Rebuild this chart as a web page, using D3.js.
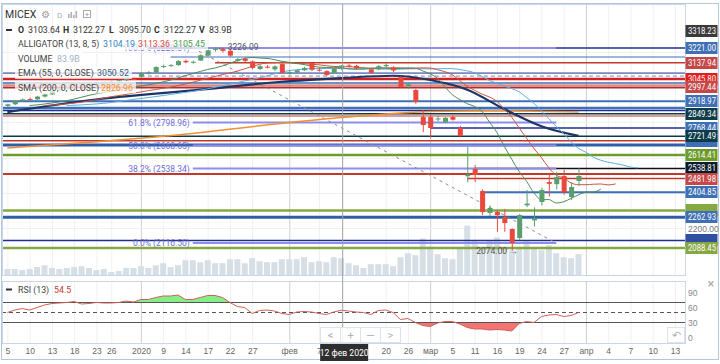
<!DOCTYPE html>
<html>
<head>
<meta charset="utf-8">
<script src="https://cdn.jsdelivr.net/npm/d3@7"></script>
<style>
  body { margin: 0; background: #fff; }
  svg { display: block; font-family: Roboto, "Liberation Sans", Arial, sans-serif; }
</style>
</head>
<body>
<div id="chart"></div>
<script>
// ---- data ----
// trading days shown on the chart, grouped by month
var monthDays = [
    ["2019-12", [5, 6, 9, 10, 11, 12, 13, 16, 17, 18, 19, 20, 23, 24, 26, 27, 30, 31]],
    ["2020-01", [3, 6, 8, 9, 10, 13, 14, 15, 16, 17, 20, 21, 22, 23, 24, 27, 28, 29, 30, 31]],
    ["2020-02", [3, 4, 5, 6, 7, 10, 11, 12, 13, 14, 17, 18, 19, 20, 21, 25, 26, 27, 28]],
    ["2020-03", [2, 3, 4, 5, 6, 10, 11, 12, 13, 16, 17, 18, 19, 20, 23, 24, 25, 26, 27, 30, 31]]
];
// empty future slots on the right of the chart
var futureDays = ["2020-04", [1, 2, 3, 4, 5, 6, 7, 8, 9, 10, 11, 12, 13, 14]];

var open = [2893, 2902, 2921, 2932, 2930, 2946, 2958, 2982, 2990, 3001, 2997, 2994, 3012, 3020, 3028, 3031, 3038, 3046,
    3058, 3078, 3082, 3115, 3120, 3124, 3148, 3140, 3150, 3178, 3210, 3215, 3205, 3148, 3160, 3145, 3102, 3115, 3100, 3130,
    3082, 3082, 3095, 3136, 3098, 3090, 3080, 3103.64, 3122, 3120, 3105, 3100, 3100, 3118, 3110, 3057, 3005, 2983, 2830,
    2830, 2818, 2800, 2830, 2768, 2495, 2536, 2411, 2287, 2292, 2264, 2196, 2145, 2330, 2245, 2349, 2462, 2450, 2496, 2377, 2468];
var high = [2905, 2925, 2935, 2940, 2950, 2962, 2985, 2995, 3005, 3010, 3008, 3015, 3025, 3032, 3036, 3042, 3050, 3052,
    3085, 3090, 3118, 3127, 3130, 3152, 3155, 3150, 3185, 3212, 3226.09, 3222, 3212, 3165, 3168, 3150, 3125, 3125, 3122, 3135,
    3095, 3100, 3115, 3142, 3108, 3095, 3112, 3122.27, 3130, 3126, 3115, 3104, 3125, 3135, 3118, 3062, 3025, 2990, 2870,
    2845, 2835, 2830, 2840, 2780, 2660, 2558, 2420, 2330, 2303, 2310, 2200, 2280, 2417, 2318, 2430, 2510, 2520, 2530, 2460, 2540];
var low = [2886, 2898, 2915, 2924, 2926, 2940, 2955, 2975, 2984, 2990, 2985, 2992, 3005, 3015, 3020, 3024, 3032, 3040,
    3052, 3070, 3080, 3108, 3114, 3120, 3135, 3132, 3148, 3175, 3200, 3195, 3170, 3138, 3140, 3100, 3095, 3105, 3090, 3075,
    3070, 3078, 3090, 3090, 3088, 3062, 3075, 3095.70, 3110, 3100, 3098, 3075, 3095, 3105, 3085, 2995, 2990, 2905, 2745,
    2712, 2805, 2795, 2810, 2715, 2460, 2462, 2275, 2270, 2180, 2180, 2074, 2135, 2320, 2210, 2330, 2380, 2420, 2390, 2360, 2440];
var close = [2902, 2920, 2930, 2929, 2946, 2958, 2980, 2990, 3001, 2997, 2994, 3012, 3020, 3028, 3031, 3038, 3046, 3045,
    3078, 3084, 3113, 3119, 3124, 3147, 3140, 3143, 3180, 3208, 3218, 3205, 3178, 3158, 3148, 3108, 3118, 3113, 3117, 3080,
    3085, 3095, 3108, 3098, 3096, 3068, 3106, 3122.27, 3115, 3105, 3108, 3080, 3118, 3125, 3094, 3000, 3016, 2915, 2785,
    2768, 2822, 2826, 2815, 2723, 2505, 2502, 2292, 2315, 2275, 2230, 2117, 2275, 2340, 2258, 2417, 2452, 2490, 2405, 2434, 2496];
// volume, billions
var volume = [30, 30, 25, 30, 40, 49, 35, 30, 35, 40, 44, 35, 25, 30, 15, 20, 35, 35,
    44, 35, 49, 59, 40, 49, 74, 74, 64, 74, 59, 59, 79, 79, 59, 84, 69, 64, 64, 79,
    79, 79, 89, 64, 69, 64, 89, 83.9, 59, 49, 35, 54, 54, 54, 44, 89, 109, 99, 183,
    143, 104, 84, 79, 133, 247, 173, 133, 173, 188, 133, 124, 133, 173, 133, 124, 148, 109, 89, 84, 104];
var rsi = [50, 55, 58, 55, 60, 65, 68, 69, 70, 72, 67, 68, 70, 69, 69, 70, 73, 71,
    76, 76, 80, 83, 83, 85, 76, 76, 80, 84, 84, 80, 70, 62, 60, 48, 54, 55, 53, 48,
    46, 51, 52, 51, 48, 46, 51, 54.5, 53, 51, 50, 46, 54, 55, 50, 36, 38, 30, 24,
    22, 29, 32, 32, 27, 20, 17, 17, 15, 16, 15, 13, 28, 32, 30, 42, 45, 46, 42, 44, 50];

// moving averages
var ema55 = [["2019-12-05", 2858], ["2019-12-20", 2925], ["2020-01-16", 2985], ["2020-01-31", 3030],
    ["2020-02-12", 3050.52], ["2020-02-21", 3064], ["2020-03-02", 3040], ["2020-03-10", 2985],
    ["2020-03-17", 2875], ["2020-03-24", 2778], ["2020-03-31", 2723]];
var sma200 = [["2019-12-05", 2655], ["2020-01-08", 2717], ["2020-02-12", 2826.96],
    ["2020-03-02", 2862], ["2020-03-13", 2866], ["2020-03-31", 2858]];

// horizontal levels drawn by the user (price, first date or null = whole width)
var levelPrices = [3221.00, 3170, 3137.94, 3079, 3062, 3045.80, 3023, 3011, 2997.44, 2918.97, 2881, 2867, 2849.34,
    2836, 2768.44, 2721.49, 2696, 2672, 2614.41, 2538.81, 2507, 2481.98, 2404.85, 2301, 2262.93, 2131, 2088.45];
var levelFrom = ["2020-01-06", "2020-01-10", "2020-01-20", null, "2020-01-03", null, null, null, null, null, null, null, null,
    null, "2020-03-02", null, null, null, null, "2020-03-11", null, "2020-03-10", "2020-03-12", null, null, null, null];

// price-axis labels, drawn in this order (first three sit under later ones)
var priceLabels = [2696, 2301, 2131, 3318.23, 3221.00, 3137.94, 3045.80, 2997.44, 2918.97, 2849.34,
    2768.44, 2721.49, 2614.41, 2538.81, 2481.98, 2404.85, 2262.93, 2088.45];
var coveredLabels = 3;
var priceTicks = [2200, 2400, 2600, 2800, 3000, 3200];

// fibonacci retracement
var fibHigh = ["2020-01-15", 3220.81];
var fibLow = ["2020-03-26", 2116.497];
var fibRatios = [1, 0.618, 0.5, 0.382, 0];

var tickDates = ["2019-12-05", "2019-12-10", "2019-12-13", "2019-12-18", "2019-12-23", "2019-12-26",
    "2020-01-03", "2020-01-09", "2020-01-14", "2020-01-17", "2020-01-22", "2020-01-27",
    "2020-02-03", "2020-02-07", "2020-02-20", "2020-02-26",
    "2020-03-02", "2020-03-05", "2020-03-11", "2020-03-16", "2020-03-19", "2020-03-24", "2020-03-27",
    "2020-04-01", "2020-04-04", "2020-04-07", "2020-04-10", "2020-04-13"];
var monthNames = ["янв", "фев", "мар", "апр", "май", "июн", "июл", "авг", "сен", "окт", "ноя", "дек"];
var crossDate = "2020-02-12";

// ---- styles ----
var levelStyle = [
    ["#1f2f8f", 1.5], ["#3f6fb5", 1], ["#c0392b", 1.5], ["#1f2f8f", 1], ["#6a8fc0", 1, "4,3"], ["#d42020", 2.5],
    ["#3f6fb5", 1.5], ["#c0392b", 1], ["#b03030", 2], ["#3f6fb5", 2], ["#3f6fb5", 2.5], ["#1f2f8f", 1.5],
    ["#0e3b48", 1.5], ["#c0392b", 1], ["#1f2f8f", 1.5], ["#0e3b48", 1.5], ["#c0392b", 1.5], ["#2f5fa8", 3],
    ["#6e9c28", 2.5], ["#111111", 1.5], ["#c0392b", 2], ["#c0392b", 1.5], ["#3f6fb5", 2], ["#86a843", 2.5],
    ["#2f5fa8", 3], ["#1f2f8f", 1.5], ["#86a843", 2.5]];
var priceLabelColors = ["#3f6fb5", "#86a843", "#2f4fa0", "#3a3a3a", "#3f6fb5", "#c44848", "#e01e1e", "#c44848",
    "#3f6fb5", "#0e3b48", "#3f6fb5", "#0e3b48", "#6e9c28", "#0a1c2a", "#c44848", "#3f6fb5", "#3f6fb5", "#86a843"];
var upColor = "#5a9e70", downColor = "#e8493c";

// ---- build dates ----
function pad(d) { return d < 10 ? "0" + d : "" + d; }
var dates = [];
monthDays.forEach(function (m) { m[1].forEach(function (d) { dates.push(m[0] + "-" + pad(d)); }); });
var slots = dates.concat(futureDays[1].map(function (d) { return futureDays[0] + "-" + pad(d); }));

// ---- layout ----
var width = 720, height = 364;
var plot = { left: 2, right: 685, top: 4, bottom: 275 };
var rsiBox = { top: 281, bottom: 343 };
var step = 7.417;

var svg = d3.select("#chart").append("svg")
    .attr("width", width)
    .attr("height", height);

var x = d3.scalePoint().domain(slots).range([7.4, 7.4 + (slots.length - 1) * step]);
var y = d3.scaleLinear().domain([2088.45, 3221]).range([248, 48]);
var yVol = d3.scaleLinear().domain([0, 250]).range([plot.bottom, plot.bottom - 50]);
var yRsi = d3.scaleLinear().domain([0, 100]).range([337.5, 287.5]);

// outer frame
svg.append("rect").attr("x", 1.5).attr("y", 3.5).attr("width", 717).attr("height", 356)
    .attr("fill", "none").attr("stroke", "#b3c8e0");

svg.append("clipPath").attr("id", "clipMain").append("rect")
    .attr("x", plot.left).attr("y", plot.top).attr("width", plot.right - plot.left).attr("height", plot.bottom - plot.top);
svg.append("clipPath").attr("id", "clipRsi").append("rect")
    .attr("x", plot.left).attr("y", rsiBox.top).attr("width", plot.right - plot.left).attr("height", rsiBox.bottom - rsiBox.top);

var main = svg.append("g").attr("clip-path", "url(#clipMain)");
var monthStarts = [];
dates.forEach(function (d, i) {
    if (i > 0 && d.slice(0, 7) !== dates[i - 1].slice(0, 7)) monthStarts.push(d);
});
monthStarts.push(slots[dates.length]);

// grid
function grid(g, y0, y1) {
    g.selectAll(".vg").data(tickDates).enter().append("line")
        .attr("x1", function (d) { return x(d) + 0.5; }).attr("x2", function (d) { return x(d) + 0.5; })
        .attr("y1", y0).attr("y2", y1)
        .attr("stroke", function (d) { return monthStarts.indexOf(d) >= 0 ? "#cfcfcf" : "#eef1f4"; });
}
grid(main, plot.top, plot.bottom);
main.selectAll(".hg").data(priceTicks).enter().append("line")
    .attr("x1", plot.left).attr("x2", plot.right)
    .attr("y1", function (d) { return Math.round(y(d)) + 0.5; }).attr("y2", function (d) { return Math.round(y(d)) + 0.5; })
    .attr("stroke", "#eef1f4");

// volume
main.selectAll(".vol").data(dates).enter().append("rect")
    .attr("x", function (d) { return x(d) - 3; })
    .attr("width", 6)
    .attr("y", function (d, i) { return yVol(volume[i]); })
    .attr("height", function (d, i) { return plot.bottom - yVol(volume[i]); })
    .attr("fill", "#d6dee6");

// horizontal levels
levelPrices.forEach(function (p, i) {
    var st = levelStyle[i];
    main.append("line")
        .attr("x1", levelFrom[i] ? x(levelFrom[i]) : plot.left)
        .attr("x2", plot.right)
        .attr("y1", y(p)).attr("y2", y(p))
        .attr("stroke", st[0]).attr("stroke-width", st[1])
        .attr("stroke-dasharray", st[2] || null);
});

// fibonacci levels
var fibX0 = x(fibHigh[0]), fibX1 = x(fibLow[0]);
fibRatios.forEach(function (r) {
    var p = fibLow[1] + r * (fibHigh[1] - fibLow[1]);
    main.append("line").attr("x1", fibX0).attr("x2", fibX1).attr("y1", y(p)).attr("y2", y(p))
        .attr("stroke", "#8e8eea").attr("stroke-width", 2);
    main.append("text").attr("x", fibX0 - 3).attr("y", y(p)).attr("dy", "0.35em")
        .attr("text-anchor", "end").attr("font-size", 8.5).attr("fill", "#6d6dda")
        .text((r * 100).toFixed(1) + "% (" + p.toFixed(2) + ")");
});
main.append("line")
    .attr("x1", fibX0).attr("y1", y(fibHigh[1])).attr("x2", fibX1).attr("y2", y(fibLow[1]))
    .attr("stroke", "#8a8a8a").attr("stroke-width", 1).attr("stroke-dasharray", "3,4");

// indicators
var median = high.map(function (h, i) { return (h + low[i]) / 2; });
function smma(src, n) {
    var out = [], v = src[0];
    src.forEach(function (s, i) { v = i === 0 ? s : (v * (n - 1) + s) / n; out.push(v); });
    return out;
}
var line = d3.line().x(function (d) { return d[0]; }).y(function (d) { return y(d[1]); }).curve(d3.curveMonotoneX);
function shifted(vals, shift) {
    return vals.map(function (v, i) { return [x(slots[i + shift]), v]; });
}
function byDate(pts) { return pts.map(function (d) { return [x(d[0]), d[1]]; }); }
main.append("path").attr("d", line(byDate(sma200)))
    .attr("fill", "none").attr("stroke", "#f0902f").attr("stroke-width", 1.5);
main.append("path").attr("d", line(byDate(ema55)))
    .attr("fill", "none").attr("stroke", "#1d3566").attr("stroke-width", 2.2);
main.append("path").attr("d", line(shifted(smma(median, 13), 8)))
    .attr("fill", "none").attr("stroke", "#5aaee3").attr("stroke-width", 1);
main.append("path").attr("d", line(shifted(smma(median, 8), 5)))
    .attr("fill", "none").attr("stroke", "#c9553f").attr("stroke-width", 1);
main.append("path").attr("d", line(shifted(smma(median, 5), 3)))
    .attr("fill", "none").attr("stroke", "#4d8c57").attr("stroke-width", 1);

// candles
var bw = 5;
var candle = main.selectAll(".candle").data(dates).enter().append("g");
function cColor(i) { return close[i] >= open[i] ? upColor : downColor; }
candle.append("line")
    .attr("x1", function (d) { return x(d) + 0.5; }).attr("x2", function (d) { return x(d) + 0.5; })
    .attr("y1", function (d, i) { return y(high[i]); }).attr("y2", function (d, i) { return y(low[i]); })
    .attr("stroke", function (d, i) { return cColor(i); });
candle.append("rect")
    .attr("x", function (d) { return x(d) - bw / 2 + 0.5; })
    .attr("width", bw)
    .attr("y", function (d, i) { return y(Math.max(open[i], close[i])); })
    .attr("height", function (d, i) { return Math.max(1, Math.abs(y(open[i]) - y(close[i]))); })
    .attr("fill", function (d, i) { return cColor(i); });

// extremes
var hiIdx = d3.maxIndex(high), loIdx = d3.minIndex(low);
main.append("text").attr("x", x(dates[hiIdx]) + 2).attr("y", y(high[hiIdx])).attr("dy", "0.35em")
    .attr("font-size", 8.5).attr("fill", "#555").text("\u2190 " + high[hiIdx].toFixed(2));
main.append("text").attr("x", x(dates[loIdx]) + 6).attr("y", y(low[loIdx])).attr("dy", "0.35em")
    .attr("text-anchor", "end").attr("font-size", 8.5).attr("fill", "#555").text(low[loIdx].toFixed(2) + " \u2192");

// main frame
svg.append("rect").attr("x", plot.left + 0.5).attr("y", plot.top + 0.5)
    .attr("width", plot.right - plot.left).attr("height", plot.bottom - plot.top)
    .attr("fill", "none").attr("stroke", "#c9d7e6");

// legend
var lg = svg.append("g").attr("font-size", 8.8).attr("fill", "#333");
lg.append("text").attr("x", 5).attr("y", 18).attr("font-size", 10.5).text("MICEX");
lg.append("text").attr("x", 41).attr("y", 18).attr("font-size", 10).attr("fill", "#9a9a9a").text("\u2699");
lg.append("text").attr("x", 57).attr("y", 18).attr("font-size", 8).attr("fill", "#aaa").text("D");
[[68, 4], [70.5, 6], [73, 3], [75.5, 7]].forEach(function (b) {
    lg.append("rect").attr("x", b[0]).attr("y", 18 - b[1]).attr("width", 1.6).attr("height", b[1]).attr("fill", "#b0b0b0");
});
lg.append("rect").attr("x", 83.5).attr("y", 10.5).attr("width", 7).attr("height", 7).attr("fill", "none").attr("stroke", "#aaa");
lg.append("text").attr("x", 87).attr("y", 17).attr("text-anchor", "middle").attr("font-size", 8).attr("fill", "#999").text("+");

lg.append("rect").attr("x", 6).attr("y", 29).attr("width", 6).attr("height", 2).attr("fill", "#333");
var ohlc = [["O", 18, open[45]], ["H", 63, high[45]], ["L", 109, low[45]], ["C", 154, close[45]]];
ohlc.forEach(function (o) {
    lg.append("text").attr("x", o[1]).attr("y", 33).attr("font-weight", "bold").text(o[0]);
    lg.append("text").attr("x", o[1] + 10).attr("y", 33).text(o[2].toFixed(2));
});
lg.append("text").attr("x", 199).attr("y", 33).attr("font-weight", "bold").text("V");
lg.append("text").attr("x", 209).attr("y", 33).text(volume[45] + "B");

var rows = [
    [47, "ALLIGATOR (13, 8, 5)", [["3104.19", 103, "#2e86c1"], ["3113.36", 138, "#d9453d"], ["3105.45", 173, "#4c9a4c"]]],
    [61.5, "VOLUME", [["83.9B", 57, "#9fb3c8"]]],
    [76, "EMA (55, 0, CLOSE)", [["3050.52", 97, "#3c5a80"]]],
    [90.5, "SMA (200, 0, CLOSE)", [["2826.96", 101, "#f08c2a"]]]
];
rows.forEach(function (r) {
    var g = lg.append("g");
    var bg = g.append("rect").attr("fill", "rgba(255,255,255,0.72)");
    g.append("text").attr("x", 18).attr("y", r[0]).attr("fill", "#444").text(r[1]);
    var lastEnd = 0;
    r[2].forEach(function (v) {
        var t = g.append("text").attr("x", v[1]).attr("y", r[0]).attr("fill", v[2]).text(v[0]);
        lastEnd = v[1] + t.node().getComputedTextLength();
    });
    bg.attr("x", 15).attr("y", r[0] - 9.5).attr("width", lastEnd - 12).attr("height", 12.5);
});

// price axis: tick values show only where no level label covers them
var visibleTicks = priceTicks.filter(function (t) {
    return priceLabels.slice(coveredLabels).every(function (p) { return Math.abs(y(p) - y(t)) > 11; });
});
var pa = svg.append("g").attr("transform", "translate(" + plot.right + ",0)");
var priceAxis = d3.axisRight(y).tickValues(visibleTicks).tickSize(0).tickPadding(3)
    .tickFormat(function (d) { return d.toFixed(2); });
pa.call(priceAxis);
pa.select(".domain").remove();
pa.selectAll("text").attr("fill", "#777").attr("font-size", 8.5).attr("font-family", null);

var lbl = svg.append("g");
priceLabels.forEach(function (p, i) {
    var yy = Math.round(y(p));
    lbl.append("rect").attr("x", plot.right + 0.5).attr("y", yy - 6).attr("width", 32).attr("height", 12)
        .attr("fill", priceLabelColors[i]);
    if (i < coveredLabels) return;
    lbl.append("text").attr("x", plot.right + 3).attr("y", yy).attr("dy", "0.35em")
        .attr("font-size", 8.6).attr("fill", "#fff")
        .attr("textLength", 28).attr("lengthAdjust", "spacingAndGlyphs")
        .text(p.toFixed(2));
});

// ---- RSI panel ----
var rg = svg.append("g").attr("clip-path", "url(#clipRsi)");
grid(rg, rsiBox.top, rsiBox.bottom);
var rsiPts = dates.map(function (d, i) { return [x(d), rsi[i]]; });
svg.append("clipPath").attr("id", "clipHi").append("rect")
    .attr("x", plot.left).attr("y", rsiBox.top).attr("width", plot.right - plot.left).attr("height", yRsi(70) - rsiBox.top);
svg.append("clipPath").attr("id", "clipLo").append("rect")
    .attr("x", plot.left).attr("y", yRsi(30)).attr("width", plot.right - plot.left).attr("height", rsiBox.bottom - yRsi(30));
var areaHi = d3.area().x(function (d) { return d[0]; }).y0(yRsi(70)).y1(function (d) { return yRsi(d[1]); });
var areaLo = d3.area().x(function (d) { return d[0]; }).y0(yRsi(30)).y1(function (d) { return yRsi(d[1]); });
rg.append("g").attr("clip-path", "url(#clipHi)").append("path").attr("d", areaHi(rsiPts)).attr("fill", "#86ee86");
rg.append("g").attr("clip-path", "url(#clipLo)").append("path").attr("d", areaLo(rsiPts)).attr("fill", "#f57373");
[70, 30].forEach(function (v) {
    rg.append("line").attr("x1", plot.left).attr("x2", plot.right).attr("y1", yRsi(v)).attr("y2", yRsi(v))
        .attr("stroke", "#555").attr("stroke-width", 1);
});
rg.append("line").attr("x1", plot.left).attr("x2", plot.right).attr("y1", yRsi(50)).attr("y2", yRsi(50))
    .attr("stroke", "#555").attr("stroke-dasharray", "4,3");
rg.append("path").attr("d", d3.line().x(function (d) { return d[0]; }).y(function (d) { return yRsi(d[1]); })(rsiPts))
    .attr("fill", "none").attr("stroke", "#d0605a").attr("stroke-width", 1);
svg.append("rect").attr("x", plot.left + 0.5).attr("y", rsiBox.top + 0.5)
    .attr("width", plot.right - plot.left).attr("height", rsiBox.bottom - rsiBox.top)
    .attr("fill", "none").attr("stroke", "#c9d7e6");

var ra = svg.append("g").attr("transform", "translate(" + plot.right + ",0)");
ra.call(d3.axisRight(yRsi).tickValues([0, 30, 60, 90]).tickSize(0).tickPadding(3));
ra.select(".domain").remove();
ra.selectAll("text").attr("fill", "#888").attr("font-size", 8.5).attr("font-family", null);

svg.append("rect").attr("x", 6).attr("y", 288.5).attr("width", 6).attr("height", 2).attr("fill", "#333");
svg.append("text").attr("x", 18).attr("y", 292.5).attr("font-size", 8.8).attr("fill", "#444").text("RSI (13)");
svg.append("text").attr("x", 54).attr("y", 292.5).attr("font-size", 8.8).attr("fill", "#c0392b").text(rsi[45]);
svg.append("text").attr("x", 711).attr("y", 288).attr("text-anchor", "middle").attr("font-size", 13).attr("fill", "#aaa").text("\u00d7");

// crosshair
svg.append("line").attr("x1", x(crossDate) + 1.5).attr("x2", x(crossDate) + 1.5)
    .attr("y1", plot.top).attr("y2", rsiBox.bottom)
    .attr("stroke", "#a0a0a0");

// navigation buttons
var nav = [["<", 320], ["+", 340], ["\u2014", 360], [">", 380]];
nav.forEach(function (b) {
    svg.append("rect").attr("x", b[1] + 0.5).attr("y", 327.5).attr("width", 20).attr("height", 15)
        .attr("fill", "rgba(255,255,255,0.85)").attr("stroke", "#dde3ea");
    svg.append("text").attr("x", b[1] + 10.5).attr("y", 339).attr("text-anchor", "middle")
        .attr("font-size", 11).attr("fill", "#b0b0b0").text(b[0]);
});
svg.append("rect").attr("x", 667.5).attr("y", 327.5).attr("width", 17).attr("height", 15)
    .attr("fill", "#fff").attr("stroke", "#dde3ea");
svg.append("text").attr("x", 676).attr("y", 339).attr("text-anchor", "middle")
    .attr("font-size", 11).attr("fill", "#b0b0b0").text("\u21b6");

// time axis
function fmtDate(d) {
    var i = slots.indexOf(d);
    var m = +d.slice(5, 7) - 1;
    if (i > 0 && slots[i - 1].slice(0, 7) !== d.slice(0, 7)) return m === 0 ? d.slice(0, 4) : monthNames[m];
    return String(+d.slice(8, 10));
}
var ta = svg.append("g").attr("transform", "translate(0," + rsiBox.bottom + ")");
ta.call(d3.axisBottom(x).tickValues(tickDates).tickSize(0).tickPadding(5).tickFormat(fmtDate));
ta.select(".domain").remove();
ta.selectAll("text").attr("fill", "#666").attr("font-size", 8.5).attr("font-family", null);

// crosshair date label
var cx = x(crossDate) + 3;
svg.append("rect").attr("x", cx - 24).attr("y", 344).attr("width", 48).attr("height", 17).attr("fill", "#2e2e2e");
svg.append("text").attr("x", cx).attr("y", 356).attr("text-anchor", "middle")
    .attr("font-size", 8.6).attr("fill", "#fff").text("12 фев 2020");
</script>
</body>
</html>
